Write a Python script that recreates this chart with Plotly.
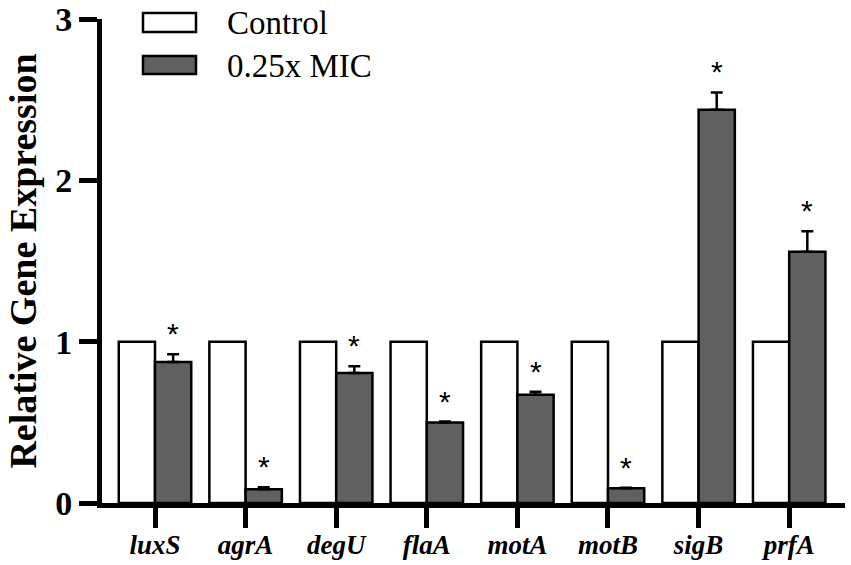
import plotly.graph_objects as go

genes = ["luxS", "agrA", "degU", "flaA", "motA", "motB", "sigB", "prfA"]
control = [1, 1, 1, 1, 1, 1, 1, 1]
treated = [0.874, 0.085, 0.806, 0.499, 0.671, 0.091, 2.437, 1.557]
treated_err = [0.048, 0.012, 0.042, 0.006, 0.018, 0.004, 0.108, 0.128]
significant = [True, True, True, True, True, True, True, True]
y_ticks = [0, 1, 2, 3]

FONT = "Liberation Serif"
L, R, T, B = 102, 6, 19, 62
W, H = 851, 565
pw, ph = W - L - R, H - T - B

def px(x):
    return (x - L) / pw

def py(y):
    return (H - B - y) / ph

pos = list(range(len(genes)))

fig = go.Figure()
fig.add_trace(go.Bar(
    x=pos, y=control, name="Control",
    marker=dict(color="white", line=dict(color="black", width=2.5)),
    showlegend=False,
))
fig.add_trace(go.Bar(
    x=pos, y=treated, name="0.25x MIC",
    marker=dict(color="#606060", line=dict(color="black", width=2.5)),
    error_y=dict(type="data", array=treated_err, arrayminus=[0] * len(genes),
                 symmetric=False, color="black", thickness=2.5, width=6),
    showlegend=False,
))

annotations = []
for p, v, e, s in zip(pos, treated, treated_err, significant):
    if s:
        annotations.append(dict(
            x=p + 0.2, y=v + e, xref="x", yref="y", text="*", showarrow=False,
            yshift=2, yanchor="bottom",
            font=dict(family="Liberation Sans", size=30, color="black"),
        ))

# legend drawn manually (large rectangular swatches)
shapes = [
    dict(type="rect", xref="paper", yref="paper",
         x0=px(143), x1=px(196), y0=py(32), y1=py(13),
         fillcolor="white", line=dict(color="black", width=2.5)),
    dict(type="rect", xref="paper", yref="paper",
         x0=px(143), x1=px(196), y0=py(74), y1=py(56),
         fillcolor="#606060", line=dict(color="black", width=2.5)),
]
annotations += [
    dict(x=px(225), y=py(23), xref="paper", yref="paper", text="Control",
         showarrow=False, xanchor="left", yanchor="middle",
         font=dict(family=FONT, size=33, color="black")),
    dict(x=px(225), y=py(66), xref="paper", yref="paper", text="0.25x MIC",
         showarrow=False, xanchor="left", yanchor="middle",
         font=dict(family=FONT, size=33, color="black")),
]

fig.update_layout(
    width=W, height=H,
    margin=dict(l=L, r=R, t=T, b=B),
    paper_bgcolor="white", plot_bgcolor="white",
    barmode="group", bargap=0.2, bargroupgap=0,
    font=dict(family=FONT, color="black"),
    shapes=shapes, annotations=annotations,
    xaxis=dict(
        range=[-0.585, 7.616], showline=True, linecolor="black", linewidth=5,
        ticks="outside", ticklen=20, tickwidth=5, tickcolor="black",
        tickmode="array", tickvals=pos,
        ticktext=[f"<b><i>{g}</i></b>" for g in genes],
        tickfont=dict(family=FONT, size=27, color="black"),
        ticklabelstandoff=-6,
        showgrid=False, zeroline=False, automargin=False,
    ),
    yaxis=dict(
        range=[0, 3], showline=True, linecolor="black", linewidth=5,
        ticks="outside", ticklen=18, tickwidth=5, tickcolor="black",
        tickvals=y_ticks, ticktext=[f"<b>{t}</b>" for t in y_ticks],
        tickfont=dict(family=FONT, size=34, color="black"),
        showgrid=False, zeroline=False, automargin=False,
        title=dict(text="<b>Relative Gene Expression</b>",
                   font=dict(family=FONT, size=38, color="black"), standoff=8),
    ),
)

fig.write_html(
    "out.html",
    config={"displayModeBar": False},
    post_script="document.body.style.margin='0';document.body.style.overflow='hidden';",
)
